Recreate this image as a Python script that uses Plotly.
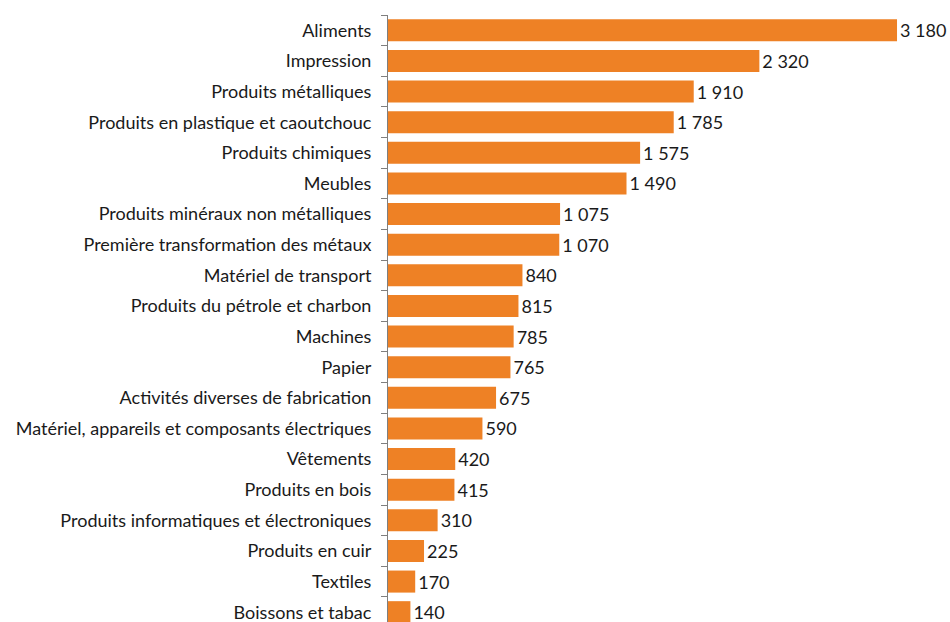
import plotly.graph_objects as go

categories = [
    "Aliments", "Impression", "Produits métalliques",
    "Produits en plastique et caoutchouc", "Produits chimiques", "Meubles",
    "Produits minéraux non métalliques", "Première transformation des métaux",
    "Matériel de transport", "Produits du pétrole et charbon", "Machines",
    "Papier", "Activités diverses de fabrication",
    "Matériel, appareils et composants électriques", "Vêtements",
    "Produits en bois", "Produits informatiques et électroniques",
    "Produits en cuir", "Textiles", "Boissons et tabac",
]
values = [3180, 2320, 1910, 1785, 1575, 1490, 1075, 1070, 840, 815,
          785, 765, 675, 590, 420, 415, 310, 225, 170, 140]

labels = [f"{v:,}".replace(",", " ") for v in values]

FONT = "Lato"

fig = go.Figure(go.Bar(
    y=categories, x=values, orientation="h",
    marker=dict(color="#EE8125", line=dict(width=0)),
    text=labels, textposition="outside", cliponaxis=False,
    textfont=dict(family=FONT, size=18, color="#1a1a1a"),
))

fig.update_layout(
    width=950, height=622,
    margin=dict(l=388, r=0, t=15, b=0, autoexpand=False),
    paper_bgcolor="white", plot_bgcolor="white",
    bargap=0.28, showlegend=False,
    font=dict(family=FONT, size=18, color="#1a1a1a"),
    xaxis=dict(visible=False, range=[0, 3511], automargin=False),
    yaxis=dict(
        autorange=False, range=[19.32, -0.5], automargin=False,
        showline=True, linecolor="#7f7f7f", linewidth=1,
        ticks="outside", ticklen=6, tickcolor="#7f7f7f",
        tickson="boundaries", showgrid=False,
        ticklabelstandoff=12,
    ),
)

fig.write_html("out.html",
               config={"displayModeBar": False},
               post_script="document.body.style.margin='0';document.body.style.overflow='hidden';")
